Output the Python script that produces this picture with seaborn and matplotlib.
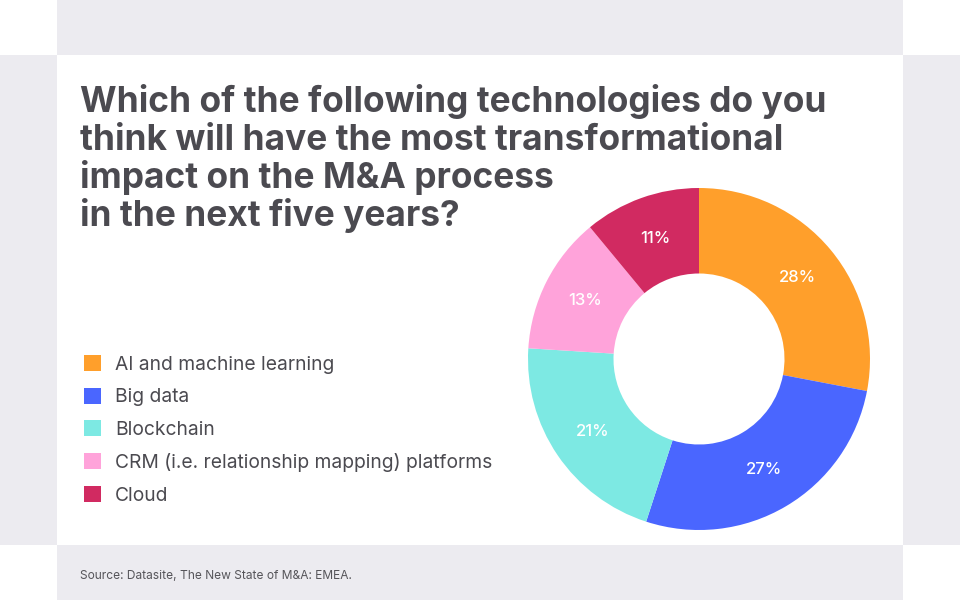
import matplotlib
matplotlib.use('Agg')
import matplotlib.pyplot as plt
import seaborn as sns
from matplotlib.patches import Rectangle, Patch

# Dados
categorias = ['AI and machine learning', 'Big data', 'Blockchain',
              'CRM (i.e. relationship mapping) platforms', 'Cloud']
valores = [28, 27, 21, 13, 11]
cores = ['#ff9f2b', '#4a66ff', '#7de9e3', '#ffa3da', '#d12a61']

linhas_titulo = ['Which of the following technologies do you',
                 'think will have the most transformational',
                 'impact on the M&A process',
                 'in the next five years?']
fonte = 'Source: Datasite, The New State of M&A: EMEA.'

sns.set_theme(style='white')
plt.rcParams['font.family'] = ['Inter', 'DejaVu Sans']

texto = '#4b4a50'
cinza = '#ecebf0'

fig = plt.figure(figsize=(9.6, 6), dpi=100)
fig.patch.set_facecolor('white')

# --- Faixas de fundo ---
W, H = 960, 600
def rect(x, y, w, h):
    fig.add_artist(Rectangle((x / W, 1 - (y + h) / H), w / W, h / H,
                             transform=fig.transFigure, facecolor=cinza,
                             edgecolor='none', zorder=0))
rect(57, 0, 846, 55)
rect(0, 55, 57, 490)
rect(903, 55, 57, 490)
rect(57, 545, 846, 55)

# --- Título (uma linha por texto) ---
for i, linha in enumerate(linhas_titulo):
    fig.text(80 / W, 1 - (112 + 38 * i) / H, linha, ha='left', va='baseline',
             fontsize=25.4, fontweight='bold', color=texto)

# --- Rosca ---
ax = fig.add_axes([(699 - 171) / W, (600 - 359 - 171) / H, 342 / W, 342 / H])
ax.pie(valores, colors=cores, startangle=90, counterclock=False, radius=1,
       wedgeprops=dict(width=0.5, linewidth=0),
       autopct=lambda p: f'{p:.0f}%', pctdistance=0.75,
       textprops=dict(color='white', fontsize=12, fontweight='medium'))
ax.set_xlim(-1, 1)
ax.set_ylim(-1, 1)
ax.set_aspect('equal')
ax.axis('off')

# --- Legenda ---
handles = [Patch(facecolor=c, edgecolor='none') for c in cores]
leg = fig.legend(handles, categorias, loc='upper left',
                 bbox_to_anchor=(84 / W, 1 - 355 / H), frameon=False,
                 fontsize=13.85, labelcolor=texto, handlelength=0.9,
                 handleheight=0.9, handletextpad=0.7, labelspacing=0.73,
                 borderpad=0, borderaxespad=0)

# --- Fonte ---
fig.text(80 / W, 1 - 576 / H, fonte, ha='left', va='center', fontsize=8.6,
         color='#56555a')

fig.savefig('out.png', dpi=100)
